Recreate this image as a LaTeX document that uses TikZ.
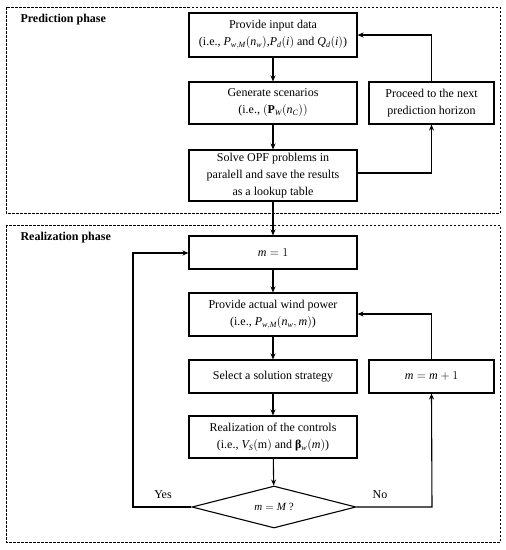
\documentclass[tikz,border=0pt]{standalone}
\usepackage{fontspec}
\setmainfont{Liberation Serif}
\usetikzlibrary{shapes.geometric,arrows.meta}
\newcommand{\mi}[1]{\mathit{#1}}
\begin{document}
\begin{tikzpicture}[x=1pt,y=-1pt,
  phase/.style={draw,line width=0.8pt,dash pattern=on 2.5pt off 1.5pt},
  stepbox/.style={draw,line width=1.1pt,align=center,font=\fontsize{12}{17}\selectfont,inner sep=0pt},
  conn/.style={line width=1.1pt,-{Stealth[length=6pt,width=5pt]}},
  lbl/.style={font=\fontsize{12}{14}\selectfont\bfseries,anchor=west},
  txt/.style={font=\fontsize{12}{14}\selectfont}]
\useasboundingbox (0,0) rectangle (506,550);
\draw[phase] (6,7) rectangle (500,213);
\draw[phase] (6,225) rectangle (500,542);
\node[lbl] (lp) at (17,20) {Prediction phase};
\node[lbl] (lr) at (17,238) {Realization phase};
% prediction boxes
\node[stepbox,minimum width=168pt,minimum height=44pt] (b1) at (273,35)
  {Provide input data\\(i.e., $\mi{P}_{\mi{w,M}}(\mi{n}_{\mi{w}})$,$\mi{P}_{\mi{d}}(\mi{i})$ and $\mi{Q}_{\mi{d}}(\mi{i})$)};
\node[stepbox,minimum width=168pt,minimum height=42pt] (b2) at (273,103)
  {Generate scenarios\\(i.e., $(\mathbf{P}_{\mi{W}}(\mi{n}_{\mi{C}}))$};
\node[stepbox,minimum width=168pt,minimum height=51pt] (b3) at (273,175.5)
  {Solve OPF problems in\\paralell and save the results\\as a lookup table};
\node[stepbox,minimum width=125pt,minimum height=42pt] (bp) at (431.5,103)
  {Proceed to the next\\prediction horizon};
% realization boxes
\node[stepbox,minimum width=168pt,minimum height=33pt] (r1) at (273,252.5) {$\mi{m}=1$};
\node[stepbox,minimum width=168pt,minimum height=43pt] (r2) at (273,314.5)
  {Provide actual wind power\\(i.e., $\mi{P}_{\mi{w,M}}(\mi{n}_{\mi{w}},\mi{m})$)};
\node[stepbox,minimum width=168pt,minimum height=33pt] (r3) at (273,376.5) {Select a solution strategy};
\node[stepbox,minimum width=125pt,minimum height=33pt] (rm) at (431.5,376.5) {$\mi{m}=\mi{m}+1$};
\node[stepbox,minimum width=168pt,minimum height=42pt] (r4) at (273,437)
  {Realization of the controls\\(i.e., $\mi{V}_{\mi{S}}(\mathrm{m})$ and \textbf{β}$_{\mi{w}}(\mi{m})$)};
\node[draw,line width=1.1pt,diamond,aspect=3.9,inner sep=0pt,minimum width=164pt,minimum height=42pt,font=\fontsize{11}{13}\selectfont] (d) at (274,507) {$\mi{m}=\mi{M}$ ?};
\coordinate (yc) at (133,507);
\coordinate (nc) at (432,507);
% connectors
\draw[conn] (b1) -- (b2);
\draw[conn] (b2) -- (b3);
\draw[conn] (b3.east |- 0,173) -| (bp.south);
\draw[conn] (bp.north) |- (b1.east |- 0,35);
\draw[conn] (b3) -- (r1);
\draw[conn] (r1) -- (r2);
\draw[conn] (r2) -- (r3);
\draw[conn] (r3) -- (r4);
\draw[conn] (r4) -- (d);
\draw[conn] (d.west) -- (yc) |- (r1.west |- 0,253);
\draw[conn] (d.east) -- (nc) -- (rm.south);
\draw[conn] (rm.north) |- (r2.east |- 0,314);
\node[txt] (yes) at (163,495) {Yes};
\node[txt] (no) at (380,495) {No};
\end{tikzpicture}
\end{document}
